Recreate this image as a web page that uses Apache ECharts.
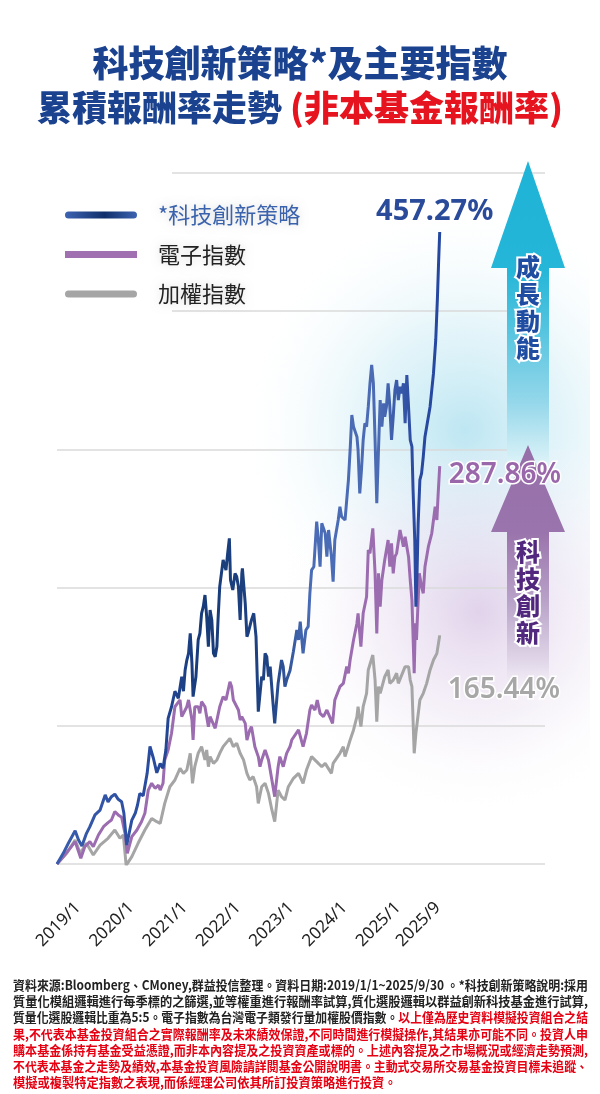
<!DOCTYPE html>
<html><head><meta charset="utf-8">
<script src="https://cdn.jsdelivr.net/npm/echarts@6/dist/echarts.min.js"></script>
<style>html,body{margin:0;padding:0;background:#fff}#c{width:600px;height:1094px}</style>
</head><body><div id="c"></div>
<script>
// ---- data (x = decimal year, y = cumulative return %) ----
const tickLabels = ['2019/1','2020/1','2021/1','2022/1','2023/1','2024/1','2025/1','2025/9'];
const tickYears = [2019,2020,2021,2022,2023,2024,2025,2025.75];
const seriesNames = ['*科技創新策略','電子指數','加權指數'];

const strategy = [[2019.00,0],[2019.11,7.7],[2019.20,15],[2019.32,24],[2019.38,17.4],[2019.44,13],[2019.52,22.2],[2019.58,27],[2019.67,35.5],[2019.76,39],[2019.85,50],[2019.90,45],[2019.96,48.7],[2020.02,50.6],[2020.08,46.8],[2020.14,45],[2020.18,36.7],[2020.23,13.7],[2020.32,31.8],[2020.38,36.7],[2020.42,42.7],[2020.46,51],[2020.52,49.4],[2020.59,65.6],[2020.64,85],[2020.70,76.5],[2020.76,66],[2020.82,72.8],[2020.87,69.2],[2020.92,82.5],[2020.96,105.4],[2021.02,113.8],[2021.08,125],[2021.14,119.9],[2021.20,135.5],[2021.23,125],[2021.26,140.4],[2021.29,147.6],[2021.32,152.4],[2021.35,166.9],[2021.38,145.2],[2021.40,121.1],[2021.45,135.5],[2021.49,162.1],[2021.52,166.9],[2021.55,181.4],[2021.58,186.2],[2021.61,194.6],[2021.64,179],[2021.67,157.3],[2021.70,183.8],[2021.73,176.6],[2021.76,152.4],[2021.79,150],[2021.82,157.3],[2021.84,176.6],[2021.87,200.7],[2021.90,210.3],[2021.93,220],[2021.98,212.7],[2022.01,224.8],[2022.04,235.6],[2022.06,205.5],[2022.10,198.3],[2022.14,210.3],[2022.17,207.9],[2022.20,200.7],[2022.23,176.6],[2022.26,210.3],[2022.27,213.9],[2022.32,188.6],[2022.35,164.5],[2022.37,166.9],[2022.43,176.6],[2022.47,181.4],[2022.51,164.5],[2022.55,110.2],[2022.61,135.6],[2022.64,133.1],[2022.67,152.4],[2022.70,150],[2022.73,135.6],[2022.76,142.8],[2022.81,116.3],[2022.84,101.8],[2022.90,130.7],[2022.96,147.6],[2022.99,142.8],[2023.02,128.3],[2023.05,133.1],[2023.11,140],[2023.17,154],[2023.23,169.3],[2023.26,162.1],[2023.29,175.3],[2023.34,152.4],[2023.39,169.3],[2023.43,171.7],[2023.46,195.9],[2023.49,212.7],[2023.53,215.1],[2023.58,247.7],[2023.61,234.4],[2023.64,215.1],[2023.67,246.5],[2023.73,239.3],[2023.76,222.4],[2023.79,241.7],[2023.84,222.4],[2023.87,204.3],[2023.90,234.4],[2023.96,248.9],[2023.99,258.5],[2024.02,251.3],[2024.08,248.9],[2024.11,263.4],[2024.14,277.9],[2024.17,299.6],[2024.20,324.9],[2024.23,316.4],[2024.29,309.2],[2024.31,299.6],[2024.34,268.2],[2024.37,285.1],[2024.40,306.8],[2024.43,318.9],[2024.46,316.4],[2024.49,330.9],[2024.52,347.8],[2024.55,361.1],[2024.58,347.8],[2024.61,306.8],[2024.64,261],[2024.67,299.6],[2024.70,335.7],[2024.73,316.4],[2024.76,333.3],[2024.78,323.7],[2024.81,330.9],[2024.84,347.8],[2024.87,330.9],[2024.90,306.8],[2024.93,323.7],[2024.96,343],[2024.99,350.2],[2025.02,335.7],[2025.05,345.4],[2025.08,340.6],[2025.11,347.8],[2025.14,318.9],[2025.17,353.8],[2025.20,330.9],[2025.23,306.8],[2025.26,302],[2025.28,270.6],[2025.31,234.4],[2025.33,186.2],[2025.35,210.3],[2025.37,246.5],[2025.40,277.9],[2025.43,282.7],[2025.46,294.7],[2025.49,309.2],[2025.52,316.4],[2025.58,330.9],[2025.64,355],[2025.68,379.2],[2025.71,410],[2025.73,435],[2025.75,457.27]];

const electronics = [[2019.00,0],[2019.11,5.3],[2019.23,11.3],[2019.32,16.2],[2019.42,4.1],[2019.49,12.5],[2019.58,16.2],[2019.64,12.5],[2019.73,21],[2019.82,27],[2019.90,29.9],[2019.96,31.8],[2020.02,37.9],[2020.08,35.5],[2020.14,33.8],[2020.20,22.2],[2020.24,7.7],[2020.32,19.8],[2020.41,24.6],[2020.49,30.6],[2020.55,36.7],[2020.61,53.5],[2020.67,58.4],[2020.73,54.8],[2020.79,57],[2020.82,53.5],[2020.87,58.4],[2020.90,75.3],[2020.96,82.5],[2021.02,94.6],[2021.08,113.8],[2021.17,118.7],[2021.20,106.6],[2021.29,113.8],[2021.32,118.7],[2021.38,104.2],[2021.40,89.7],[2021.43,113.8],[2021.49,113.8],[2021.52,109],[2021.55,117.5],[2021.61,113.8],[2021.67,99.4],[2021.70,106.6],[2021.79,98.2],[2021.87,113.8],[2021.93,121.1],[2021.98,118.7],[2022.05,131.9],[2022.08,128.3],[2022.11,118.7],[2022.20,111.4],[2022.23,104.2],[2022.26,106.6],[2022.32,101.8],[2022.35,89.7],[2022.40,97],[2022.43,99.4],[2022.49,84.9],[2022.55,77.7],[2022.58,70.4],[2022.61,75.3],[2022.67,82.5],[2022.73,75.3],[2022.79,60.8],[2022.84,48.7],[2022.90,70.4],[2022.93,77.7],[2022.99,70.4],[2023.05,80.1],[2023.11,85],[2023.14,89.7],[2023.17,89.7],[2023.26,97],[2023.34,84.9],[2023.40,94.6],[2023.46,111.4],[2023.49,115],[2023.55,111.4],[2023.59,118.7],[2023.64,109],[2023.70,106.6],[2023.76,111.4],[2023.86,101.8],[2023.90,118.7],[2023.99,128.3],[2024.05,130.7],[2024.11,142.8],[2024.14,138],[2024.17,147.6],[2024.23,162.1],[2024.29,174.2],[2024.31,181.4],[2024.36,157.3],[2024.40,181.4],[2024.46,193.4],[2024.49,227.2],[2024.52,224.8],[2024.57,242.9],[2024.61,210.3],[2024.64,166.9],[2024.67,210.3],[2024.70,186.2],[2024.73,205.5],[2024.78,220],[2024.84,234.4],[2024.87,215.1],[2024.90,232],[2024.93,210.3],[2024.96,222.4],[2024.99,224.8],[2025.05,241.7],[2025.11,229.6],[2025.14,236.8],[2025.20,222.4],[2025.23,205.5],[2025.26,191],[2025.30,138],[2025.32,174.2],[2025.34,162.1],[2025.39,210.3],[2025.43,200.7],[2025.46,195.9],[2025.49,215.1],[2025.55,229.6],[2025.61,239.3],[2025.67,258.5],[2025.70,248.9],[2025.72,265.8],[2025.75,287.86]];

const taiex = [[2019.00,0],[2019.17,7.7],[2019.32,17.4],[2019.41,7.7],[2019.52,15],[2019.64,6.5],[2019.76,13.7],[2019.90,18.6],[2020.02,24.6],[2020.11,18.6],[2020.17,21],[2020.22,-1],[2020.32,5.3],[2020.43,15],[2020.55,24.6],[2020.67,33],[2020.76,30.6],[2020.82,29.4],[2020.90,43.9],[2020.99,55.9],[2021.08,60.8],[2021.17,69.2],[2021.23,65.6],[2021.29,68],[2021.35,80.1],[2021.39,58.4],[2021.43,70.4],[2021.49,80.1],[2021.55,84.9],[2021.61,75.3],[2021.64,82.5],[2021.67,70.4],[2021.70,77.7],[2021.76,72.8],[2021.82,75.3],[2021.87,80.1],[2021.93,84.9],[2022.05,90.9],[2022.11,84.9],[2022.17,87.3],[2022.23,80.1],[2022.29,75.3],[2022.35,65.6],[2022.40,60.8],[2022.46,63.2],[2022.52,55.9],[2022.55,43.9],[2022.61,55.9],[2022.67,58.4],[2022.73,51.1],[2022.79,39.1],[2022.84,30.6],[2022.90,53.5],[2022.96,48.7],[2023.02,46.3],[2023.08,55.9],[2023.17,62],[2023.26,65.6],[2023.34,58.4],[2023.40,68],[2023.49,77.7],[2023.61,72.8],[2023.67,70.4],[2023.73,72.8],[2023.84,65.6],[2023.87,72.8],[2023.99,80.1],[2024.05,84.9],[2024.08,77.7],[2024.17,89.7],[2024.23,97],[2024.29,106.6],[2024.31,113.8],[2024.36,99.4],[2024.40,113.8],[2024.46,123.5],[2024.49,140.4],[2024.57,151.2],[2024.61,133.1],[2024.64,103],[2024.67,128.3],[2024.70,123.5],[2024.78,135.5],[2024.84,140.4],[2024.87,130.7],[2024.93,133.1],[2024.99,138],[2025.02,130.7],[2025.14,142.8],[2025.20,142.8],[2025.23,133.1],[2025.26,128.3],[2025.30,80.1],[2025.33,94.6],[2025.40,118.7],[2025.46,123.5],[2025.52,130.7],[2025.58,140.4],[2025.64,147.6],[2025.70,152.4],[2025.75,165.44]];

const titleLine1 = '科技創新策略*及主要指數';
const titleLine2a = '累積報酬率走勢 ';
const titleLine2b = '(非本基金報酬率)';
const arrowText1 = '成長動能';
const arrowText2 = '科技創新';
// footnote lines: [text, isRed] segments
const footnote = [
  [['資料來源:Bloomberg、CMoney,群益投信整理。資料日期:2019/1/1~2025/9/30 。*科技創新策略說明:採用',0]],
  [['質量化模組邏輯進行每季標的之篩選,並等權重進行報酬率試算,質化選股邏輯以群益創新科技基金進行試算,',0]],
  [['質量化選股邏輯比重為5:5。電子指數為台灣電子類發行量加權股價指數。',0],['以上僅為歷史資料模擬投資組合之結',1]],
  [['果,不代表本基金投資組合之實際報酬率及未來績效保證,不同時間進行模擬操作,其結果亦可能不同。投資人申',1]],
  [['購本基金係持有基金受益憑證,而非本內容提及之投資資產或標的。上述內容提及之市場概況或經濟走勢預測,',1]],
  [['不代表本基金之走勢及績效,本基金投資風險請詳閱基金公開說明書。主動式交易所交易基金投資目標未追蹤、',1]],
  [['模擬或複製特定指數之表現,而係經理公司依其所訂投資策略進行投資。',1]]
];

// ---- rendering ----
const CJK = '"Noto Sans CJK TC","Noto Sans CJK SC","Noto Sans",sans-serif';
const LAT = '"Noto Sans","Open Sans",sans-serif';
const chart = echarts.init(document.getElementById('c'), null, {renderer: 'canvas', width: 600, height: 1094});
const G = echarts.graphic;

const blueGrad = new G.LinearGradient(0, 0, 1, 0, [
  {offset: 0, color: '#3a5dad'}, {offset: 0.25, color: '#2a4c9f'}, {offset: 0.38, color: '#173a78'},
  {offset: 0.55, color: '#1f4283'}, {offset: 0.66, color: '#4a6cb6'}, {offset: 0.84, color: '#4b6bb4'},
  {offset: 0.93, color: '#2a4aa0'}, {offset: 1, color: '#2447a0'}]);
const legendBlue = new G.LinearGradient(0, 0, 1, 0, [
  {offset: 0, color: '#3d63b2'}, {offset: 0.55, color: '#112f6a'}, {offset: 1, color: '#3d63b2'}]);
const pill = 'path://M3.5,0H68.5A3.5,3.5,0,0,1,68.5,7H3.5A3.5,3.5,0,0,1,3.5,0Z';

const measureCtx = document.createElement('canvas').getContext('2d');
function measure(txt, font) { measureCtx.font = font; return measureCtx.measureText(txt).width; }

const fnFont = 'bold 13px ' + CJK;
const fnRef = measure(footnote[1][0][0], fnFont);
const fnElems = footnote.map((segs, i) => {
  let w = 0; segs.forEach(s => { w += measure(s[0], fnFont); });
  const sx = (i === footnote.length - 1) ? 575 / fnRef : 575 / w;
  const text = segs.map(s => '{' + (s[1] ? 'r' : 'k') + '|' + s[0] + '}').join('');
  return {
    type: 'text', x: 13, y: 985 + i * 16.2, scaleX: Math.min(sx, 1.05), z: 10,
    style: {
      text: text, verticalAlign: 'middle', align: 'left',
      rich: {
        k: {fill: '#222', fontSize: 13, fontWeight: 'bold', fontFamily: CJK},
        r: {fill: '#e50012', fontSize: 13, fontWeight: 'bold', fontFamily: CJK}
      }
    }
  };
});

function vertText(txt, y, color) {
  return {type: 'text', x: 528, y: y, z: 6, style: {
    text: txt.split('').join('\n'), fill: color, stroke: '#fff', lineWidth: 4,
    fontSize: 24, fontWeight: 900, fontFamily: CJK, lineHeight: 27, align: 'center', verticalAlign: 'top'}};
}

const option = {
  animation: false,
  backgroundColor: '#fff',
  grid: {left: 57, right: 55, top: 173, bottom: 230, show: false},
  xAxis: [
    {type: 'value', min: 2019, max: 2027.607, show: false},
    {type: 'value', min: 2018.606, max: 2027.761, position: 'bottom',
      axisLine: {show: false}, axisTick: {show: false}, splitLine: {show: false},
      axisLabel: {show: true, customValues: tickYears, rotate: 45, margin: 41, fontSize: 17,
        color: '#222', fontFamily: LAT,
        formatter: v => { const i = tickYears.indexOf(v); return i >= 0 ? tickLabels[i] : ''; }}}
  ],
  yAxis: {type: 'value', min: 0, max: 500, interval: 100,
    axisLine: {show: false}, axisTick: {show: false}, axisLabel: {show: false},
    splitLine: {lineStyle: {color: '#dadada', width: 1.5}}},
  legend: {
    orient: 'vertical', left: 60, top: 198, itemWidth: 72, itemHeight: 7, itemGap: 15.5,
    selectedMode: false,
    textStyle: {fontSize: 22, fontFamily: CJK, color: '#222', lineHeight: 24, padding: [0, 0, 0, 16],
      textShadowBlur: 8, textShadowColor: 'rgba(0,0,0,0.15)'},
    data: [
      {name: seriesNames[0], icon: pill, itemStyle: {color: legendBlue}, textStyle: {color: '#3a62ad'}},
      {name: seriesNames[1], icon: 'rect', itemStyle: {color: '#a070b0'}},
      {name: seriesNames[2], icon: pill, itemStyle: {color: '#a5a5a5'}}
    ]
  },
  series: [
    {name: seriesNames[2], type: 'line', data: taiex, symbol: 'none', z: 5,
      itemStyle: {color: '#a5a5a5'}, lineStyle: {width: 3, color: '#a5a5a5'},
      endLabel: {show: true, distance: 0, align: 'left', verticalAlign: 'middle', offset: [8, 55],
        formatter: p => p.value[1].toFixed(2) + '%', fontSize: 28, fontWeight: 600, fontFamily: LAT,
        color: '#a7a7a7', textBorderColor: '#fff', textBorderWidth: 3}},
    {name: seriesNames[1], type: 'line', data: electronics, symbol: 'none', z: 6,
      itemStyle: {color: '#9c6cb0'}, lineStyle: {width: 3, color: '#9c6cb0'},
      endLabel: {show: true, distance: 0, align: 'left', verticalAlign: 'middle', offset: [9, 9],
        formatter: p => p.value[1].toFixed(2) + '%', fontSize: 28, fontWeight: 600, fontFamily: LAT,
        color: '#9a68aa', textBorderColor: '#fff', textBorderWidth: 3}},
    {name: seriesNames[0], type: 'line', data: strategy, symbol: 'none', z: 7,
      itemStyle: {color: '#2c4d9e'}, lineStyle: {width: 3, color: blueGrad},
      endLabel: {show: true, distance: 0, align: 'center', verticalAlign: 'middle', offset: [-5, -20],
        formatter: p => p.value[1].toFixed(2) + '%', fontSize: 29, fontWeight: 'bold', fontFamily: LAT,
        color: '#2a4a9a', textBorderColor: '#fff', textBorderWidth: 3}}
  ],
  graphic: [
    // soft background glows
    {type: 'rect', z: -10, shape: {x: 200, y: 130, width: 390, height: 500},
      style: {fill: new G.RadialGradient(0.68, 0.6, 0.6, [
        {offset: 0, color: 'rgba(178,226,240,0.85)'}, {offset: 0.45, color: 'rgba(208,237,246,0.55)'},
        {offset: 1, color: 'rgba(255,255,255,0)'}])}},
    {type: 'rect', z: -9, shape: {x: 220, y: 450, width: 370, height: 360},
      style: {fill: new G.RadialGradient(0.7, 0.45, 0.58, [
        {offset: 0, color: 'rgba(218,200,230,0.8)'}, {offset: 0.5, color: 'rgba(234,224,241,0.45)'},
        {offset: 1, color: 'rgba(255,255,255,0)'}])}},
    // cover upper grid lines left of legend text
    {type: 'rect', z: 1, shape: {x: 30, y: 160, width: 142, height: 165}, style: {fill: '#fff'}},
    // arrows
    {type: 'polygon', z: 3, shape: {points: [[528, 161], [565, 268], [549, 268], [549, 482], [507, 482], [507, 268], [491, 268]]},
      style: {fill: new G.LinearGradient(0, 0, 0, 1, [
        {offset: 0, color: '#1eb3d7'}, {offset: 0.34, color: '#25b6d8'}, {offset: 0.5, color: '#4ec2de'},
        {offset: 0.75, color: '#94d7ea'}, {offset: 0.93, color: '#d8f1f7'}, {offset: 1, color: 'rgba(255,255,255,0)'}])}},
    {type: 'polygon', z: 3, shape: {points: [[528, 445], [565, 532], [549, 532], [549, 705], [507, 705], [507, 532], [491, 532]]},
      style: {fill: new G.LinearGradient(0, 0, 0, 1, [
        {offset: 0, color: '#966fa9'}, {offset: 0.34, color: '#9a74ac'}, {offset: 0.6, color: '#b8a2c8'},
        {offset: 0.85, color: '#e4dbeb'}, {offset: 1, color: 'rgba(255,255,255,0)'}])}},
    vertText(arrowText1, 253, '#1f4da2'),
    vertText(arrowText2, 538, '#52287f'),
    // title
    {type: 'text', x: 300, y: 63, z: 10, style: {text: titleLine1, fill: '#1b428f', fontSize: 36, fontWeight: 900,
      fontFamily: CJK, align: 'center', verticalAlign: 'middle'}},
    {type: 'text', x: 300, y: 108, z: 10, style: {text: '{a|' + titleLine2a + '}{r|' + titleLine2b + '}',
      align: 'center', verticalAlign: 'middle',
      rich: {a: {fill: '#1b428f', fontSize: 35, fontWeight: 900, fontFamily: CJK},
             r: {fill: '#e6141e', fontSize: 35, fontWeight: 900, fontFamily: CJK}}}}
  ].concat(fnElems)
};
chart.setOption(option);
</script></body></html>
